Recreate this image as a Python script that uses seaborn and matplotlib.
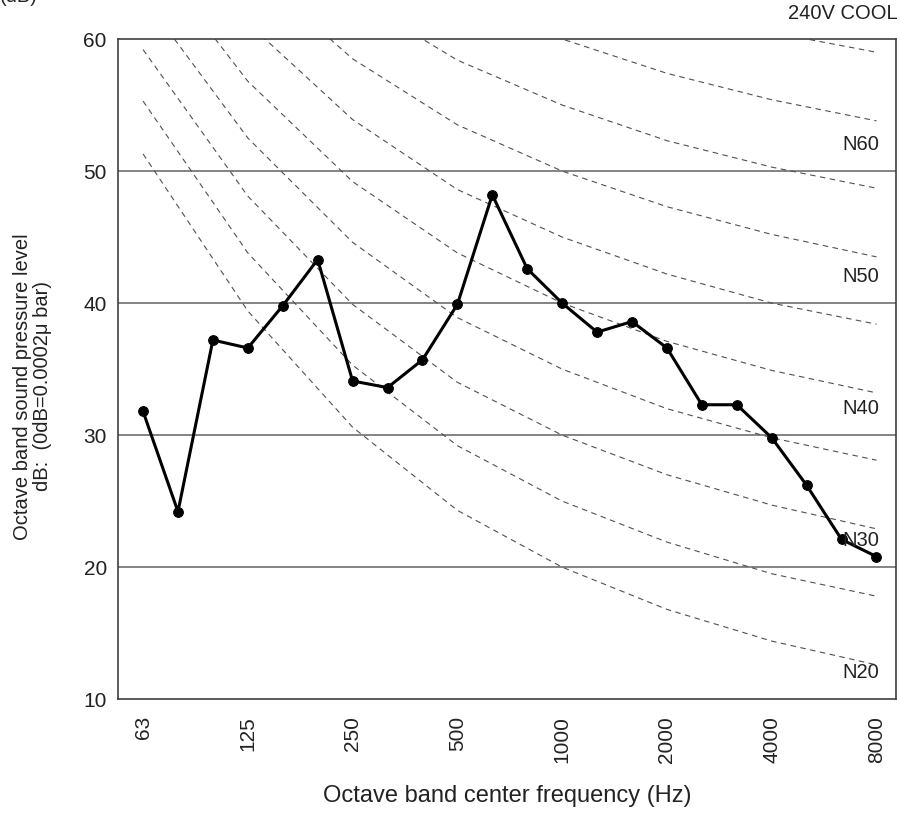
import numpy as np
import pandas as pd
import matplotlib
matplotlib.use('Agg')
import matplotlib.pyplot as plt
import seaborn as sns

# third-octave band centres and measured levels (240V COOL)
freqs = ['63', '80', '100', '125', '160', '200', '250', '315', '400', '500', '630',
         '800', '1000', '1250', '1600', '2000', '2500', '3150', '4000', '5000', '6300', '8000']
levels = [31.8, 24.2, 37.2, 36.6, 39.8, 43.3, 34.1, 33.6, 35.7, 39.9, 48.2,
          42.6, 40.0, 37.8, 38.6, 36.6, 32.3, 32.3, 29.8, 26.2, 22.1, 20.8]

# NR curves at octave band centres
octave_labels = ['63', '125', '250', '500', '1000', '2000', '4000', '8000']
nr_values = [20, 25, 30, 35, 40, 45, 50, 55, 60, 65]
nr_levels = [
    [51.3, 39.4, 30.6, 24.3, 20.0, 16.8, 14.4, 12.6],
    [55.3, 43.8, 35.3, 29.2, 25.0, 21.9, 19.5, 17.8],
    [59.2, 48.1, 39.9, 34.0, 30.0, 27.0, 24.7, 22.9],
    [63.2, 52.5, 44.6, 38.9, 35.0, 32.0, 29.8, 28.1],
    [67.1, 56.8, 49.2, 43.8, 40.0, 37.1, 34.9, 33.2],
    [71.1, 61.2, 53.9, 48.6, 45.0, 42.2, 40.0, 38.4],
    [75.0, 65.5, 58.5, 53.5, 50.0, 47.3, 45.2, 43.5],
    [79.0, 69.9, 63.2, 58.4, 55.0, 52.3, 50.3, 48.7],
    [82.9, 74.2, 67.8, 63.2, 60.0, 57.4, 55.4, 53.8],
    [86.9, 78.6, 72.5, 68.1, 65.0, 62.5, 60.5, 59.0],
]
nr_labelled = [20, 30, 40, 50, 60]
tick_labels = ['63', '125', '250', '500', '1000', '2000', '4000', '8000']

sns.set_style('white')
plt.rcParams['font.family'] = ['Liberation Sans', 'DejaVu Sans']

fig = plt.figure(figsize=(9, 8.13), dpi=100)
ax = fig.add_axes([0.131, 0.140, 0.865, 0.812])

pos = {f: i for i, f in enumerate(freqs)}

for y in [20, 30, 40, 50]:
    ax.axhline(y, color='#7a7a7a', lw=1.3, zorder=1)

for nr, row in zip(nr_values, nr_levels):
    d = pd.DataFrame({'x': [pos[f] for f in octave_labels], 'y': row})
    sns.lineplot(data=d, x='x', y='y', ax=ax, color='#505050', lw=0.8,
                 linestyle=(0, (5, 4)), zorder=2)

df = pd.DataFrame({'x': [pos[f] for f in freqs], 'y': levels})
sns.lineplot(data=df, x='x', y='y', ax=ax, color='black', lw=2.2, marker='o',
             markersize=7, markeredgecolor='black', zorder=3)

for nr in nr_labelled:
    ax.text(20.55, nr - 8, f'N{nr}', ha='center', va='center', fontsize=14.5,
            color='#222222', zorder=4)

ax.set_xlim(-0.72, 21.57)
ax.set_ylim(10, 60)
ax.set_yticks([10, 20, 30, 40, 50, 60])
ax.set_xticks([pos[f] for f in tick_labels])
ax.set_xticklabels(tick_labels, rotation=90)
ax.tick_params(axis='both', labelsize=15, length=0, colors='#222222')
ax.tick_params(axis='x', pad=12)
ax.tick_params(axis='y', pad=8)
ax.set_xlabel('Octave band center frequency (Hz)', fontsize=17, labelpad=16, color='#222222')
ax.set_ylabel('Octave band sound pressure level\ndB:  (0dB=0.0002\u03bc bar)', fontsize=14.5,
              color='#222222', linespacing=1.05)
ax.yaxis.set_label_coords(-0.085, 0.474)
for s in ax.spines.values():
    s.set_color('#404040')
    s.set_linewidth(1.2)

fig.text(0.937, 0.983, '240V COOL', ha='center', va='center', fontsize=14.5, color='#222222')
fig.text(0.0, 1.004, '(dB)', ha='left', va='center', fontsize=14.5, color='#222222')

fig.savefig('out.png', dpi=100)
